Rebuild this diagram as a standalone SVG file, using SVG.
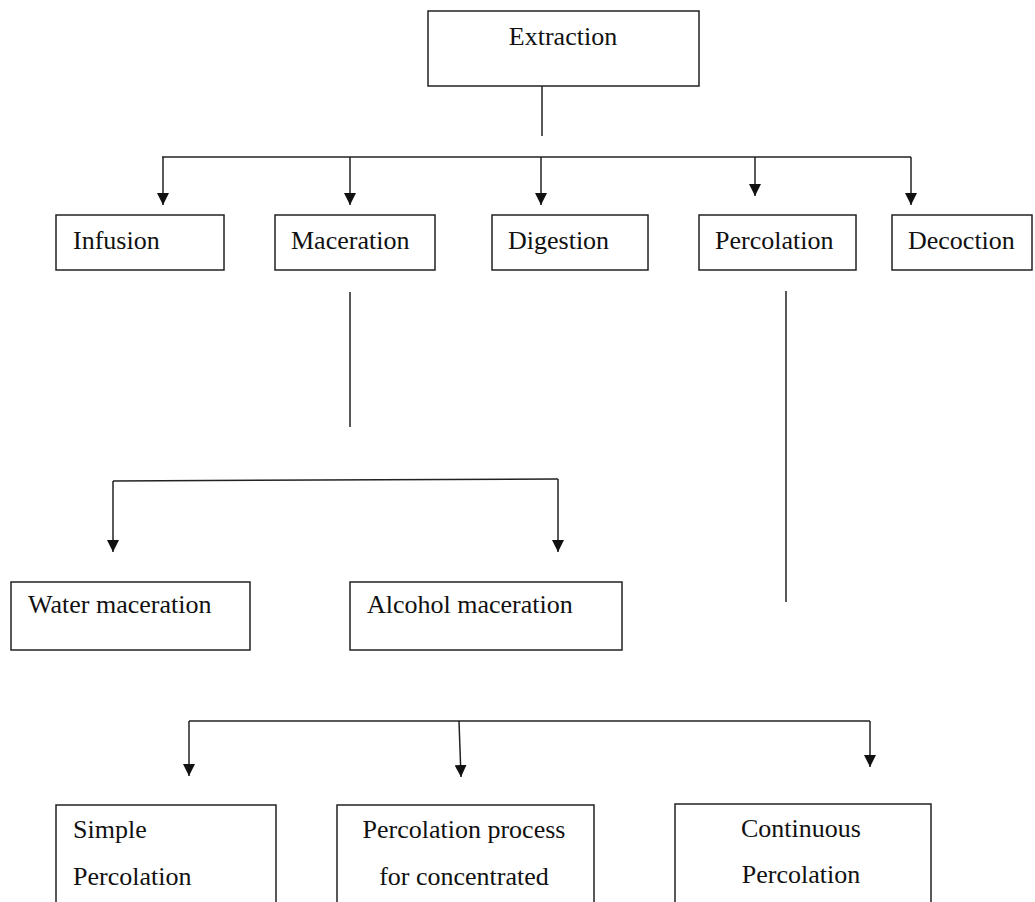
<svg xmlns="http://www.w3.org/2000/svg" width="1035" height="902" viewBox="0 0 1035 902">
  <style>
    .box { fill: #ffffff; stroke: #222222; stroke-width: 1.5; }
    .lbl { font-family: "Liberation Serif", "Times New Roman", serif; font-size: 26px; fill: #111111; }
    .mid { text-anchor: middle; }
    .conn { fill: none; stroke: #222222; stroke-width: 1.5; }
    .arr { marker-end: url(#ah); }
  </style>
  <defs>
    <marker id="ah" markerUnits="userSpaceOnUse" markerWidth="12" markerHeight="12" refX="12" refY="6" orient="auto">
      <path d="M0,0 L12,6 L0,12 z" fill="#111111"/>
    </marker>
  </defs>
  <rect width="1035" height="902" fill="#ffffff"/>

  <g id="connectors">
    <line class="conn" x1="542" y1="86" x2="542" y2="136"/>
    <line class="conn" x1="162" y1="157" x2="911" y2="157"/>
    <line class="conn arr" x1="163" y1="157" x2="163" y2="205"/>
    <line class="conn arr" x1="350" y1="157" x2="350" y2="205"/>
    <line class="conn arr" x1="541" y1="157" x2="541" y2="205"/>
    <line class="conn arr" x1="755" y1="157" x2="755" y2="196"/>
    <line class="conn arr" x1="911" y1="157" x2="911" y2="205"/>

    <line class="conn" x1="350" y1="292" x2="350" y2="427"/>
    <line class="conn" x1="113" y1="481" x2="558" y2="479"/>
    <line class="conn arr" x1="113" y1="481" x2="113" y2="552"/>
    <line class="conn arr" x1="558" y1="479" x2="558" y2="552"/>

    <line class="conn" x1="786" y1="291" x2="786" y2="602"/>
    <line class="conn" x1="189" y1="721" x2="870" y2="721"/>
    <line class="conn arr" x1="189" y1="721" x2="189" y2="776"/>
    <line class="conn arr" x1="459" y1="721" x2="461" y2="777"/>
    <line class="conn arr" x1="870" y1="721" x2="870" y2="767"/>
  </g>

  <g id="extraction">
    <rect class="box" x="428" y="11" width="271" height="75"/>
    <text class="lbl mid" x="563" y="45">Extraction</text>
  </g>

  <g id="infusion">
    <rect class="box" x="56" y="215" width="168" height="55"/>
    <text class="lbl" x="73" y="249">Infusion</text>
  </g>
  <g id="maceration">
    <rect class="box" x="275" y="215" width="160" height="55"/>
    <text class="lbl" x="291" y="249">Maceration</text>
  </g>
  <g id="digestion">
    <rect class="box" x="492" y="215" width="156" height="55"/>
    <text class="lbl" x="508" y="249">Digestion</text>
  </g>
  <g id="percolation">
    <rect class="box" x="699" y="215" width="157" height="55"/>
    <text class="lbl" x="715" y="249">Percolation</text>
  </g>
  <g id="decoction">
    <rect class="box" x="892" y="215" width="140" height="55"/>
    <text class="lbl" x="908" y="249">Decoction</text>
  </g>

  <g id="water-maceration">
    <rect class="box" x="11" y="582" width="239" height="68"/>
    <text class="lbl" x="28" y="613">Water maceration</text>
  </g>
  <g id="alcohol-maceration">
    <rect class="box" x="350" y="582" width="272" height="68"/>
    <text class="lbl" x="367" y="613">Alcohol maceration</text>
  </g>

  <g id="simple-percolation">
    <rect class="box" x="56" y="805" width="220" height="120"/>
    <text class="lbl" x="73" y="838">Simple</text>
    <text class="lbl" x="73" y="885">Percolation</text>
  </g>
  <g id="percolation-concentrated">
    <rect class="box" x="337" y="805" width="257" height="120"/>
    <text class="lbl mid" x="464" y="838">Percolation process</text>
    <text class="lbl mid" x="464" y="885">for concentrated</text>
  </g>
  <g id="continuous-percolation">
    <rect class="box" x="675" y="804" width="256" height="120"/>
    <text class="lbl mid" x="801" y="837">Continuous</text>
    <text class="lbl mid" x="801" y="883">Percolation</text>
  </g>
</svg>
